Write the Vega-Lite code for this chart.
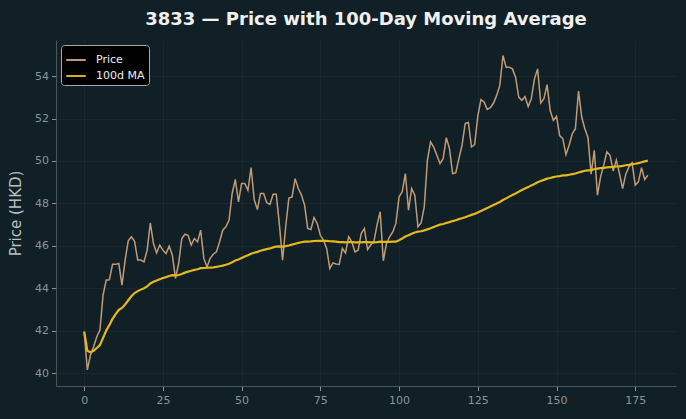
{
  "$schema": "https://vega.github.io/schema/vega-lite/v6.json",
  "width": 620,
  "height": 346,
  "autosize": {"type": "none"},
  "padding": {"left": 56, "top": 40, "right": 10, "bottom": 33},
  "background": "#111f26",
  "title": {
    "text": "3833 — Price with 100-Day Moving Average",
    "anchor": "middle",
    "font": "DejaVu Sans",
    "fontSize": 18,
    "fontWeight": "bold",
    "color": "#f0f0f0",
    "offset": 11
  },
  "config": {
    "view": {"stroke": null},
    "axis": {
      "labelFont": "DejaVu Sans",
      "labelFontSize": 11,
      "labelColor": "#8b9599",
      "tickColor": "#8b9599",
      "tickSize": 4.5,
      "tickWidth": 1,
      "domainColor": "#4d575b",
      "domainWidth": 1,
      "gridColor": "#ffffff",
      "gridOpacity": 0.05,
      "gridWidth": 0.8,
      "titleFont": "DejaVu Sans",
      "titleFontWeight": "normal",
      "titleColor": "#b9bfc2"
    },
    "legend": {
      "orient": "top-left",
      "offset": 5,
      "fillColor": "#000000",
      "strokeColor": "#a7a7a7",
      "cornerRadius": 3,
      "padding": 4,
      "labelFont": "DejaVu Sans",
      "labelFontSize": 11,
      "labelColor": "#eeeeee",
      "symbolType": "stroke",
      "symbolSize": 380,
      "symbolStrokeWidth": 2,
      "labelOffset": 9,
      "rowPadding": -4
    }
  },
  "data": {
    "values": [
      {"day": 0, "price": 41.96, "ma": 41.96},
      {"day": 1, "price": 40.16, "ma": 41.06},
      {"day": 2, "price": 40.86, "ma": 40.99},
      {"day": 3, "price": 41.25, "ma": 41.06},
      {"day": 4, "price": 41.72, "ma": 41.19},
      {"day": 5, "price": 42.04, "ma": 41.33},
      {"day": 6, "price": 43.68, "ma": 41.67},
      {"day": 7, "price": 44.39, "ma": 42.01},
      {"day": 8, "price": 44.4, "ma": 42.27},
      {"day": 9, "price": 45.13, "ma": 42.56},
      {"day": 10, "price": 45.13, "ma": 42.79},
      {"day": 11, "price": 45.17, "ma": 42.99},
      {"day": 12, "price": 44.15, "ma": 43.08},
      {"day": 13, "price": 45.33, "ma": 43.24},
      {"day": 14, "price": 46.24, "ma": 43.44},
      {"day": 15, "price": 46.43, "ma": 43.63},
      {"day": 16, "price": 46.22, "ma": 43.78},
      {"day": 17, "price": 45.33, "ma": 43.87},
      {"day": 18, "price": 45.33, "ma": 43.94},
      {"day": 19, "price": 45.25, "ma": 44.01},
      {"day": 20, "price": 45.8, "ma": 44.09},
      {"day": 21, "price": 47.08, "ma": 44.23},
      {"day": 22, "price": 46.11, "ma": 44.31},
      {"day": 23, "price": 45.67, "ma": 44.37},
      {"day": 24, "price": 46.04, "ma": 44.43},
      {"day": 25, "price": 45.8, "ma": 44.49},
      {"day": 26, "price": 45.64, "ma": 44.53},
      {"day": 27, "price": 45.99, "ma": 44.58},
      {"day": 28, "price": 45.56, "ma": 44.62},
      {"day": 29, "price": 44.47, "ma": 44.61},
      {"day": 30, "price": 45.17, "ma": 44.63},
      {"day": 31, "price": 46.35, "ma": 44.68},
      {"day": 32, "price": 46.55, "ma": 44.74},
      {"day": 33, "price": 46.5, "ma": 44.79},
      {"day": 34, "price": 46.04, "ma": 44.83},
      {"day": 35, "price": 46.35, "ma": 44.87},
      {"day": 36, "price": 46.19, "ma": 44.9},
      {"day": 37, "price": 46.74, "ma": 44.95},
      {"day": 38, "price": 45.41, "ma": 44.96},
      {"day": 39, "price": 45.01, "ma": 44.97},
      {"day": 40, "price": 45.41, "ma": 44.98},
      {"day": 41, "price": 45.61, "ma": 44.99},
      {"day": 42, "price": 45.72, "ma": 45.01},
      {"day": 43, "price": 46.19, "ma": 45.04},
      {"day": 44, "price": 46.74, "ma": 45.07},
      {"day": 45, "price": 46.9, "ma": 45.11},
      {"day": 46, "price": 47.21, "ma": 45.16},
      {"day": 47, "price": 48.47, "ma": 45.23},
      {"day": 48, "price": 49.13, "ma": 45.31},
      {"day": 49, "price": 48.07, "ma": 45.36},
      {"day": 50, "price": 48.94, "ma": 45.43},
      {"day": 51, "price": 48.94, "ma": 45.5},
      {"day": 52, "price": 48.62, "ma": 45.56},
      {"day": 53, "price": 49.69, "ma": 45.63},
      {"day": 54, "price": 48.18, "ma": 45.68},
      {"day": 55, "price": 47.71, "ma": 45.72},
      {"day": 56, "price": 48.47, "ma": 45.77},
      {"day": 57, "price": 48.47, "ma": 45.81},
      {"day": 58, "price": 48.03, "ma": 45.85},
      {"day": 59, "price": 47.95, "ma": 45.88},
      {"day": 60, "price": 48.43, "ma": 45.93},
      {"day": 61, "price": 48.43, "ma": 45.97},
      {"day": 62, "price": 47.0, "ma": 45.98},
      {"day": 63, "price": 45.33, "ma": 45.97},
      {"day": 64, "price": 46.9, "ma": 45.99},
      {"day": 65, "price": 48.25, "ma": 46.02},
      {"day": 66, "price": 48.3, "ma": 46.06},
      {"day": 67, "price": 49.17, "ma": 46.1},
      {"day": 68, "price": 48.7, "ma": 46.14},
      {"day": 69, "price": 48.4, "ma": 46.17},
      {"day": 70, "price": 47.92, "ma": 46.2},
      {"day": 71, "price": 46.82, "ma": 46.2},
      {"day": 72, "price": 46.77, "ma": 46.21},
      {"day": 73, "price": 47.34, "ma": 46.23},
      {"day": 74, "price": 47.06, "ma": 46.24},
      {"day": 75, "price": 46.5, "ma": 46.24},
      {"day": 76, "price": 46.27, "ma": 46.24},
      {"day": 77, "price": 45.88, "ma": 46.24},
      {"day": 78, "price": 44.94, "ma": 46.22},
      {"day": 79, "price": 45.2, "ma": 46.21},
      {"day": 80, "price": 45.15, "ma": 46.2},
      {"day": 81, "price": 45.13, "ma": 46.18},
      {"day": 82, "price": 45.88, "ma": 46.18},
      {"day": 83, "price": 45.67, "ma": 46.17},
      {"day": 84, "price": 46.43, "ma": 46.18},
      {"day": 85, "price": 46.19, "ma": 46.18},
      {"day": 86, "price": 45.72, "ma": 46.17},
      {"day": 87, "price": 45.8, "ma": 46.17},
      {"day": 88, "price": 46.59, "ma": 46.17},
      {"day": 89, "price": 46.82, "ma": 46.18},
      {"day": 90, "price": 45.83, "ma": 46.18},
      {"day": 91, "price": 46.04, "ma": 46.17},
      {"day": 92, "price": 46.2, "ma": 46.17},
      {"day": 93, "price": 46.98, "ma": 46.18},
      {"day": 94, "price": 47.61, "ma": 46.2},
      {"day": 95, "price": 45.3, "ma": 46.19},
      {"day": 96, "price": 46.11, "ma": 46.19},
      {"day": 97, "price": 46.43, "ma": 46.19},
      {"day": 98, "price": 46.66, "ma": 46.2},
      {"day": 99, "price": 47.06, "ma": 46.2},
      {"day": 100, "price": 48.31, "ma": 46.27},
      {"day": 101, "price": 48.55, "ma": 46.35},
      {"day": 102, "price": 49.41, "ma": 46.44},
      {"day": 103, "price": 47.68, "ma": 46.5},
      {"day": 104, "price": 48.7, "ma": 46.57},
      {"day": 105, "price": 48.39, "ma": 46.63},
      {"day": 106, "price": 46.9, "ma": 46.67},
      {"day": 107, "price": 47.08, "ma": 46.69},
      {"day": 108, "price": 47.84, "ma": 46.73},
      {"day": 109, "price": 50.04, "ma": 46.78},
      {"day": 110, "price": 50.9, "ma": 46.83},
      {"day": 111, "price": 50.66, "ma": 46.89},
      {"day": 112, "price": 50.27, "ma": 46.95},
      {"day": 113, "price": 49.88, "ma": 47.0},
      {"day": 114, "price": 50.11, "ma": 47.03},
      {"day": 115, "price": 51.1, "ma": 47.08},
      {"day": 116, "price": 50.59, "ma": 47.12},
      {"day": 117, "price": 49.41, "ma": 47.17},
      {"day": 118, "price": 49.44, "ma": 47.21},
      {"day": 119, "price": 50.11, "ma": 47.26},
      {"day": 120, "price": 50.74, "ma": 47.3},
      {"day": 121, "price": 51.76, "ma": 47.35},
      {"day": 122, "price": 51.82, "ma": 47.41},
      {"day": 123, "price": 50.66, "ma": 47.46},
      {"day": 124, "price": 50.77, "ma": 47.51},
      {"day": 125, "price": 52.1, "ma": 47.57},
      {"day": 126, "price": 52.89, "ma": 47.64},
      {"day": 127, "price": 52.78, "ma": 47.71},
      {"day": 128, "price": 52.43, "ma": 47.78},
      {"day": 129, "price": 52.51, "ma": 47.86},
      {"day": 130, "price": 52.73, "ma": 47.93},
      {"day": 131, "price": 53.09, "ma": 48.0},
      {"day": 132, "price": 53.56, "ma": 48.07},
      {"day": 133, "price": 54.97, "ma": 48.16},
      {"day": 134, "price": 54.42, "ma": 48.24},
      {"day": 135, "price": 54.42, "ma": 48.32},
      {"day": 136, "price": 54.34, "ma": 48.4},
      {"day": 137, "price": 53.95, "ma": 48.47},
      {"day": 138, "price": 53.01, "ma": 48.55},
      {"day": 139, "price": 52.86, "ma": 48.63},
      {"day": 140, "price": 53.04, "ma": 48.7},
      {"day": 141, "price": 52.57, "ma": 48.77},
      {"day": 142, "price": 52.93, "ma": 48.85},
      {"day": 143, "price": 53.87, "ma": 48.92},
      {"day": 144, "price": 54.34, "ma": 49.0},
      {"day": 145, "price": 52.73, "ma": 49.06},
      {"day": 146, "price": 52.93, "ma": 49.11},
      {"day": 147, "price": 53.6, "ma": 49.17},
      {"day": 148, "price": 52.38, "ma": 49.2},
      {"day": 149, "price": 51.91, "ma": 49.24},
      {"day": 150, "price": 52.1, "ma": 49.27},
      {"day": 151, "price": 51.2, "ma": 49.29},
      {"day": 152, "price": 51.05, "ma": 49.32},
      {"day": 153, "price": 50.3, "ma": 49.32},
      {"day": 154, "price": 50.74, "ma": 49.35},
      {"day": 155, "price": 51.28, "ma": 49.38},
      {"day": 156, "price": 51.52, "ma": 49.41},
      {"day": 157, "price": 53.29, "ma": 49.46},
      {"day": 158, "price": 52.07, "ma": 49.5},
      {"day": 159, "price": 51.52, "ma": 49.54},
      {"day": 160, "price": 51.1, "ma": 49.56},
      {"day": 161, "price": 49.38, "ma": 49.57},
      {"day": 162, "price": 50.5, "ma": 49.61},
      {"day": 163, "price": 48.39, "ma": 49.64},
      {"day": 164, "price": 49.25, "ma": 49.66},
      {"day": 165, "price": 49.8, "ma": 49.68},
      {"day": 166, "price": 50.43, "ma": 49.7},
      {"day": 167, "price": 50.27, "ma": 49.71},
      {"day": 168, "price": 49.53, "ma": 49.72},
      {"day": 169, "price": 50.04, "ma": 49.74},
      {"day": 170, "price": 49.41, "ma": 49.75},
      {"day": 171, "price": 48.7, "ma": 49.77},
      {"day": 172, "price": 49.38, "ma": 49.8},
      {"day": 173, "price": 49.72, "ma": 49.82},
      {"day": 174, "price": 49.91, "ma": 49.85},
      {"day": 175, "price": 48.86, "ma": 49.87},
      {"day": 176, "price": 49.02, "ma": 49.9},
      {"day": 177, "price": 49.69, "ma": 49.94},
      {"day": 178, "price": 49.13, "ma": 49.98},
      {"day": 179, "price": 49.33, "ma": 50.02}
    ]
  },
  "encoding": {
    "x": {
      "field": "day",
      "type": "quantitative",
      "scale": {"domain": [-8.95, 187.95], "nice": false, "zero": false},
      "axis": {"title": null, "values": [0, 25, 50, 75, 100, 125, 150, 175], "labelPadding": 4}
    }
  },
  "layer": [
    {
      "mark": {"type": "line", "strokeWidth": 1.5, "opacity": 0.95},
      "encoding": {
        "y": {
          "field": "price",
          "type": "quantitative",
          "scale": {"domain": [39.4, 55.7], "nice": false, "zero": false},
          "axis": {"title": "Price (HKD)", "titleFontSize": 15, "titlePadding": 11, "values": [40, 42, 44, 46, 48, 50, 52, 54], "labelPadding": 3}
        },
        "color": {
          "datum": "Price",
          "scale": {"domain": ["Price", "100d MA"], "range": ["#c9a27b", "#e5b81c"]},
          "legend": {"title": null}
        }
      }
    },
    {
      "mark": {"type": "line", "strokeWidth": 2.2},
      "encoding": {
        "y": {"field": "ma", "type": "quantitative"},
        "color": {"datum": "100d MA"}
      }
    }
  ]
}
